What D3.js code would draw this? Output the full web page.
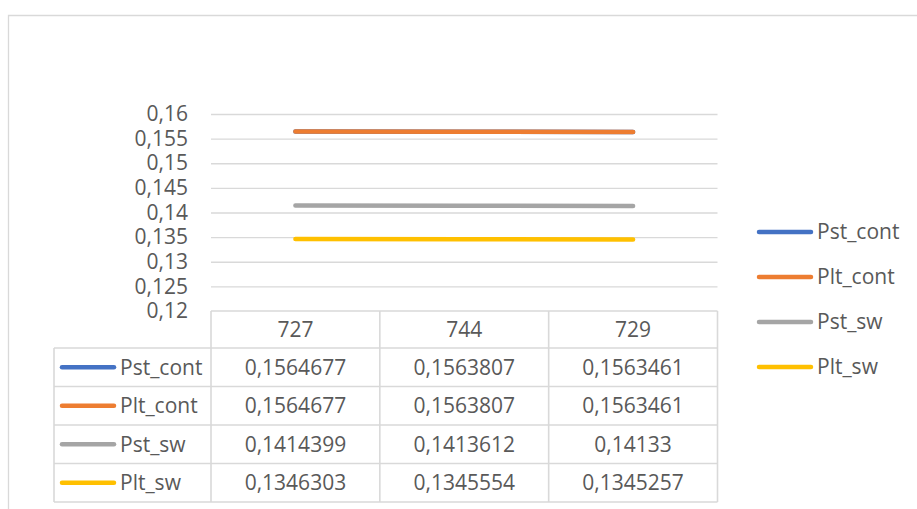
<!DOCTYPE html>
<html>
<head>
<meta charset="utf-8">
<script src="https://cdn.jsdelivr.net/npm/d3@7"></script>
<style>
  html, body { margin: 0; padding: 0; background: #fff; }
  svg { display: block; }
  text { font-family: "Open Sans", sans-serif; fill: #595959; }
</style>
</head>
<body>
<svg id="chart" width="917" height="509"></svg>
<script>
// Categories along the x axis
const categories = ["727", "744", "729"];

// Series names and their values per category
const seriesNames = ["Pst_cont", "Plt_cont", "Pst_sw", "Plt_sw"];
const pstCont = [0.1564677, 0.1563807, 0.1563461];
const pltCont = [0.1564677, 0.1563807, 0.1563461];
const pstSw   = [0.1414399, 0.1413612, 0.14133];
const pltSw   = [0.1346303, 0.1345554, 0.1345257];
const seriesColors = ["#4472C4", "#ED7D31", "#A5A5A5", "#FFC000"];

// Y axis ticks
const yTicks = [0.12, 0.125, 0.13, 0.135, 0.14, 0.145, 0.15, 0.155, 0.16];

const series = seriesNames.map((name, i) => ({
  name,
  values: [pstCont, pltCont, pstSw, pltSw][i],
  color: seriesColors[i]
}));

const svg = d3.select("#chart");
const gridColor = "#D9D9D9";
const fontSize = 21;

// Plot area geometry
const plotLeft = 211, plotRight = 717.5, plotTop = 114, plotBottom = 311;
const legendColLeft = 54;
const headerH = 37, rowH = 38.5;

const x = d3.scaleBand().domain(categories).range([plotLeft, plotRight]).padding(0);
const y = d3.scaleLinear().domain([0.12, 0.16]).range([plotBottom, plotTop]);

const commaLocale = d3.formatLocale({ decimal: ",", thousands: ".", grouping: [3], currency: ["", ""] });
const tickFmt = commaLocale.format(".3~f");
const valueFmt = v => String(v).replace(".", ",");

// Chart frame
svg.append("path")
  .attr("d", "M8.5,509 V15.5 H917")
  .attr("fill", "none")
  .attr("stroke", gridColor)
  .attr("stroke-width", 1.3);

// Gridlines and tick labels
const yAxis = d3.axisLeft(y).tickValues(yTicks).tickFormat(tickFmt)
  .tickSize(-(plotRight - plotLeft)).tickPadding(23);
const ga = svg.append("g").attr("transform", `translate(${plotLeft},0)`).call(yAxis);
ga.select(".domain").remove();
ga.selectAll(".tick line")
  .attr("stroke", gridColor)
  .attr("stroke-width", 1.3)
  .filter(d => d === 0.12).remove();
ga.selectAll(".tick text")
  .attr("font-size", fontSize)
  .attr("font-family", "Open Sans, sans-serif")
  .attr("fill", "#595959");

// Series lines
const line = d3.line()
  .x((d, i) => x(categories[i]) + x.bandwidth() / 2)
  .y(d => y(d));
svg.append("g").selectAll("path")
  .data(series)
  .join("path")
  .attr("d", d => line(d.values))
  .attr("fill", "none")
  .attr("stroke", d => d.color)
  .attr("stroke-width", 4.5)
  .attr("stroke-linecap", "round");

// Data table
const table = svg.append("g");
const tableTop = plotBottom;
const rowsTop = tableTop + headerH;
const tableBottom = rowsTop + rowH * series.length;

// Header row
categories.forEach(c => {
  table.append("text")
    .attr("x", x(c) + x.bandwidth() / 2)
    .attr("y", tableTop + headerH / 2)
    .attr("dy", "0.35em")
    .attr("text-anchor", "middle")
    .attr("font-size", fontSize)
    .text(c);
});

// Body rows
series.forEach((s, r) => {
  const cy = rowsTop + rowH * r + rowH / 2;
  table.append("line")
    .attr("x1", 62).attr("x2", 114)
    .attr("y1", cy).attr("y2", cy)
    .attr("stroke", s.color)
    .attr("stroke-width", 4.5)
    .attr("stroke-linecap", "round");
  table.append("text")
    .attr("x", 120).attr("y", cy).attr("dy", "0.35em")
    .attr("font-size", fontSize)
    .text(s.name);
  s.values.forEach((v, i) => {
    table.append("text")
      .attr("x", x(categories[i]) + x.bandwidth() / 2)
      .attr("y", cy).attr("dy", "0.35em")
      .attr("text-anchor", "middle")
      .attr("font-size", fontSize)
      .text(valueFmt(v));
  });
});

// Table borders
const bw = 1.6;
const hLines = [
  [plotLeft, plotRight, tableTop],
  ...d3.range(series.length + 1).map(k => [legendColLeft, plotRight, rowsTop + rowH * k])
];
hLines.forEach(([x1, x2, yy]) => {
  table.append("line").attr("x1", x1).attr("x2", x2).attr("y1", yy).attr("y2", yy)
    .attr("stroke", gridColor).attr("stroke-width", bw);
});
const vLines = [
  [legendColLeft, rowsTop, tableBottom],
  ...x.domain().map(c => [x(c), tableTop, tableBottom]),
  [plotRight, tableTop, tableBottom]
];
vLines.forEach(([xx, y1, y2]) => {
  table.append("line").attr("x1", xx).attr("x2", xx).attr("y1", y1).attr("y2", y2)
    .attr("stroke", gridColor).attr("stroke-width", bw);
});

// Legend
const legend = svg.append("g");
series.forEach((s, i) => {
  const ly = 232 + i * 45;
  legend.append("line")
    .attr("x1", 759).attr("x2", 811)
    .attr("y1", ly).attr("y2", ly)
    .attr("stroke", s.color)
    .attr("stroke-width", 4.5)
    .attr("stroke-linecap", "round");
  legend.append("text")
    .attr("x", 817).attr("y", ly).attr("dy", "0.35em")
    .attr("font-size", fontSize)
    .text(s.name);
});
</script>
</body>
</html>
